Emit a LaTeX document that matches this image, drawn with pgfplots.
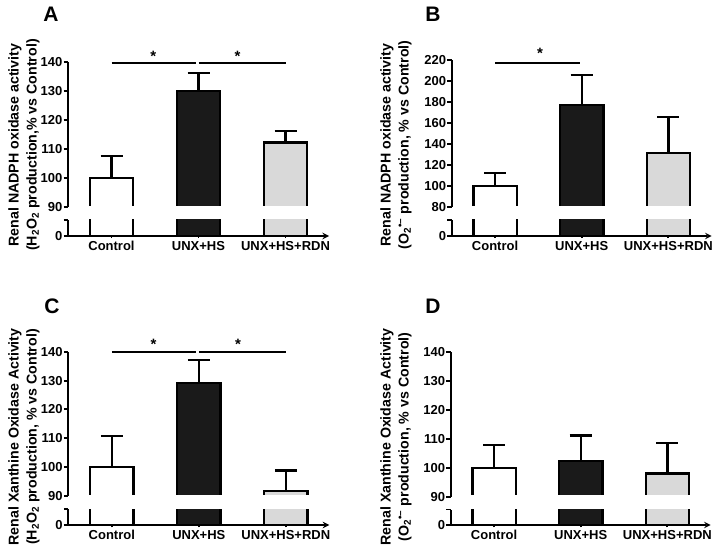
\documentclass[border=0pt]{standalone}
\usepackage{pgfplots}
\pgfplotsset{compat=1.18}
\usepackage{fontspec}
\setmainfont{Liberation Sans}

\definecolor{barblack}{HTML}{1A1A1A}
\definecolor{bargrey}{HTML}{D9D9D9}

\pgfplotsset{
  base/.style={
    scale only axis, width=261pt,
    xmin=-0.5, xmax=2.5,
    axis y line=left,
    axis line style={-, line width=1.9pt, black},
    tick style={line width=1.9pt, black},
    tick align=outside, major tick length=4.5pt,
    ticklabel style={font=\bfseries\fontsize{13}{13}\selectfont},
    /pgf/number format/assume math mode=true,
    clip mode=individual,
  },
  upper/.style={base, axis x line=none, xtick=\empty,
    yticklabel style={inner xsep=1pt}},
  lower/.style={base, axis x line=bottom, height=16pt,
    ymin=0, ymax=10, ytick={0,10}, yticklabels={0,},
    xtick={0,1,2}, xticklabels={Control,UNX+HS,UNX+HS+RDN},
    yticklabel style={inner xsep=1pt},
    xticklabel style={inner ysep=3pt}},
  bar/.style={ybar, bar width=0.5, bar shift=0pt, draw=black, line width=2.4pt,
    error bars/y dir=plus, error bars/y explicit,
    error bars/error bar style={line width=2.4pt, black},
    error bars/error mark options={rotate=90, mark size=11pt, line width=2.4pt, black}},
}
\tikzset{
  sig/.style={line width=2.4pt, black},
  cut/.style={white, line width=2.8pt},
  star/.style={anchor=base, font=\bfseries\fontsize{15}{15}\selectfont},
  ylab/.style={rotate=90, align=center, font=\bfseries\fontsize{14.2}{18}\selectfont},
  letter/.style={font=\bfseries\fontsize{21}{21}\selectfont},
}

\begin{document}
\begin{tikzpicture}
\path[use as bounding box] (0,0) rectangle (714pt,549pt);

% ---------------- A ----------------
\begin{axis}[upper, at={(68pt,342pt)}, anchor=south west, height=145pt,
  ymin=90, ymax=140, ytick={90,100,...,140}]
\addplot[bar, fill=white] coordinates {(0,100) +- (0,7.5)};
\addplot[bar, fill=barblack] coordinates {(1,130) +- (0,6.2)};
\addplot[bar, fill=bargrey] coordinates {(2,112.2) +- (0,4.0)};
\draw[cut] (axis cs:-0.45,90) -- (axis cs:2.5,90);
\draw[sig] (axis cs:0,139.6) -- (axis cs:0.97,139.6);
\draw[sig] (axis cs:1.0,139.6) -- (axis cs:2,139.6);
\node[star, yshift=2pt] at (axis cs:0.48,139.6) {*};
\node[star, yshift=2pt] at (axis cs:1.45,139.6) {*};
\end{axis}
\begin{axis}[lower, at={(68pt,313pt)}, anchor=south west]
\addplot[bar, fill=white] coordinates {(0,100) +- (0,0)};
\addplot[bar, fill=barblack] coordinates {(1,130) +- (0,0)};
\addplot[bar, fill=bargrey] coordinates {(2,112.2) +- (0,0)};
\end{axis}
\node[ylab] at (24pt,404pt) {Renal NADPH oxidase activity\\(H\textsubscript{2}O\textsubscript{2} production,\% vs Control)};
\node[letter] at (51pt,535pt) {A};

% ---------------- B ----------------
\begin{axis}[upper, at={(451.7pt,342pt)}, anchor=south west, width=260pt, height=146.7pt,
  ymin=80, ymax=220, ytick={80,100,...,220}]
\addplot[bar, fill=white] coordinates {(0,100) +- (0,12.4)};
\addplot[bar, fill=barblack] coordinates {(1,177.4) +- (0,28.8)};
\addplot[bar, fill=bargrey] coordinates {(2,131.8) +- (0,34)};
\draw[cut] (axis cs:-0.45,80) -- (axis cs:2.5,80);
\draw[sig] (axis cs:0,217.7) -- (axis cs:0.98,217.7);
\node[star, yshift=4pt] at (axis cs:0.52,217.7) {*};
\end{axis}
\begin{axis}[lower, at={(451.7pt,313pt)}, anchor=south west, width=260pt]
\addplot[bar, fill=white] coordinates {(0,100) +- (0,0)};
\addplot[bar, fill=barblack] coordinates {(1,177.4) +- (0,0)};
\addplot[bar, fill=bargrey] coordinates {(2,131.8) +- (0,0)};
\end{axis}
\node[ylab] at (396pt,404pt) {Renal NADPH oxidase activity\\(O\textsubscript{2}\textsuperscript{•–} production, \% vs Control)};
\node[letter] at (433pt,535pt) {B};

% ---------------- C ----------------
\begin{axis}[upper, at={(68.3pt,53pt)}, anchor=south west, height=144.3pt,
  ymin=90, ymax=140, ytick={90,100,...,140}]
\addplot[bar, fill=white] coordinates {(0,100) +- (0,10.7)};
\addplot[bar, fill=barblack] coordinates {(1,129.2) +- (0,7.9)};
\addplot[bar, fill=bargrey] coordinates {(2,91.8) +- (0,7.1)};
\draw[cut] (axis cs:-0.45,90) -- (axis cs:2.5,90);
\draw[sig] (axis cs:0,140) -- (axis cs:0.97,140);
\draw[sig] (axis cs:1.0,140) -- (axis cs:2,140);
\node[star, yshift=2pt] at (axis cs:0.48,140) {*};
\node[star, yshift=2pt] at (axis cs:1.45,140) {*};
\end{axis}
\begin{axis}[lower, at={(68.3pt,24pt)}, anchor=south west, height=15.7pt]
\addplot[bar, fill=white] coordinates {(0,100) +- (0,0)};
\addplot[bar, fill=barblack] coordinates {(1,129.2) +- (0,0)};
\addplot[bar, fill=bargrey] coordinates {(2,91.8) +- (0,0)};
\end{axis}
\node[ylab] at (24pt,112pt) {Renal Xanthine Oxidase Activity\\(H\textsubscript{2}O\textsubscript{2} production, \% vs Control)};
\node[letter] at (52pt,243pt) {C};

% ---------------- D ----------------
\begin{axis}[upper, at={(450.7pt,52.3pt)}, anchor=south west, width=260pt, height=144.4pt,
  ymin=90, ymax=140, ytick={90,100,...,140}]
\addplot[bar, fill=white] coordinates {(0,100) +- (0,8)};
\addplot[bar, fill=barblack] coordinates {(1,102.3) +- (0,8.9)};
\addplot[bar, fill=bargrey] coordinates {(2,98.1) +- (0,10.4)};
\draw[cut] (axis cs:-0.45,90) -- (axis cs:2.5,90);
\end{axis}
\begin{axis}[lower, at={(450.7pt,24pt)}, anchor=south west, width=260pt, height=15.5pt]
\addplot[bar, fill=white] coordinates {(0,100) +- (0,0)};
\addplot[bar, fill=barblack] coordinates {(1,102.3) +- (0,0)};
\addplot[bar, fill=bargrey] coordinates {(2,98.1) +- (0,0)};
\end{axis}
\node[ylab] at (396pt,112pt) {Renal Xanthine Oxidase Activity\\(O\textsubscript{2}\textsuperscript{•–} production, \% vs Control)};
\node[letter] at (433pt,243pt) {D};
\end{tikzpicture}
\end{document}
